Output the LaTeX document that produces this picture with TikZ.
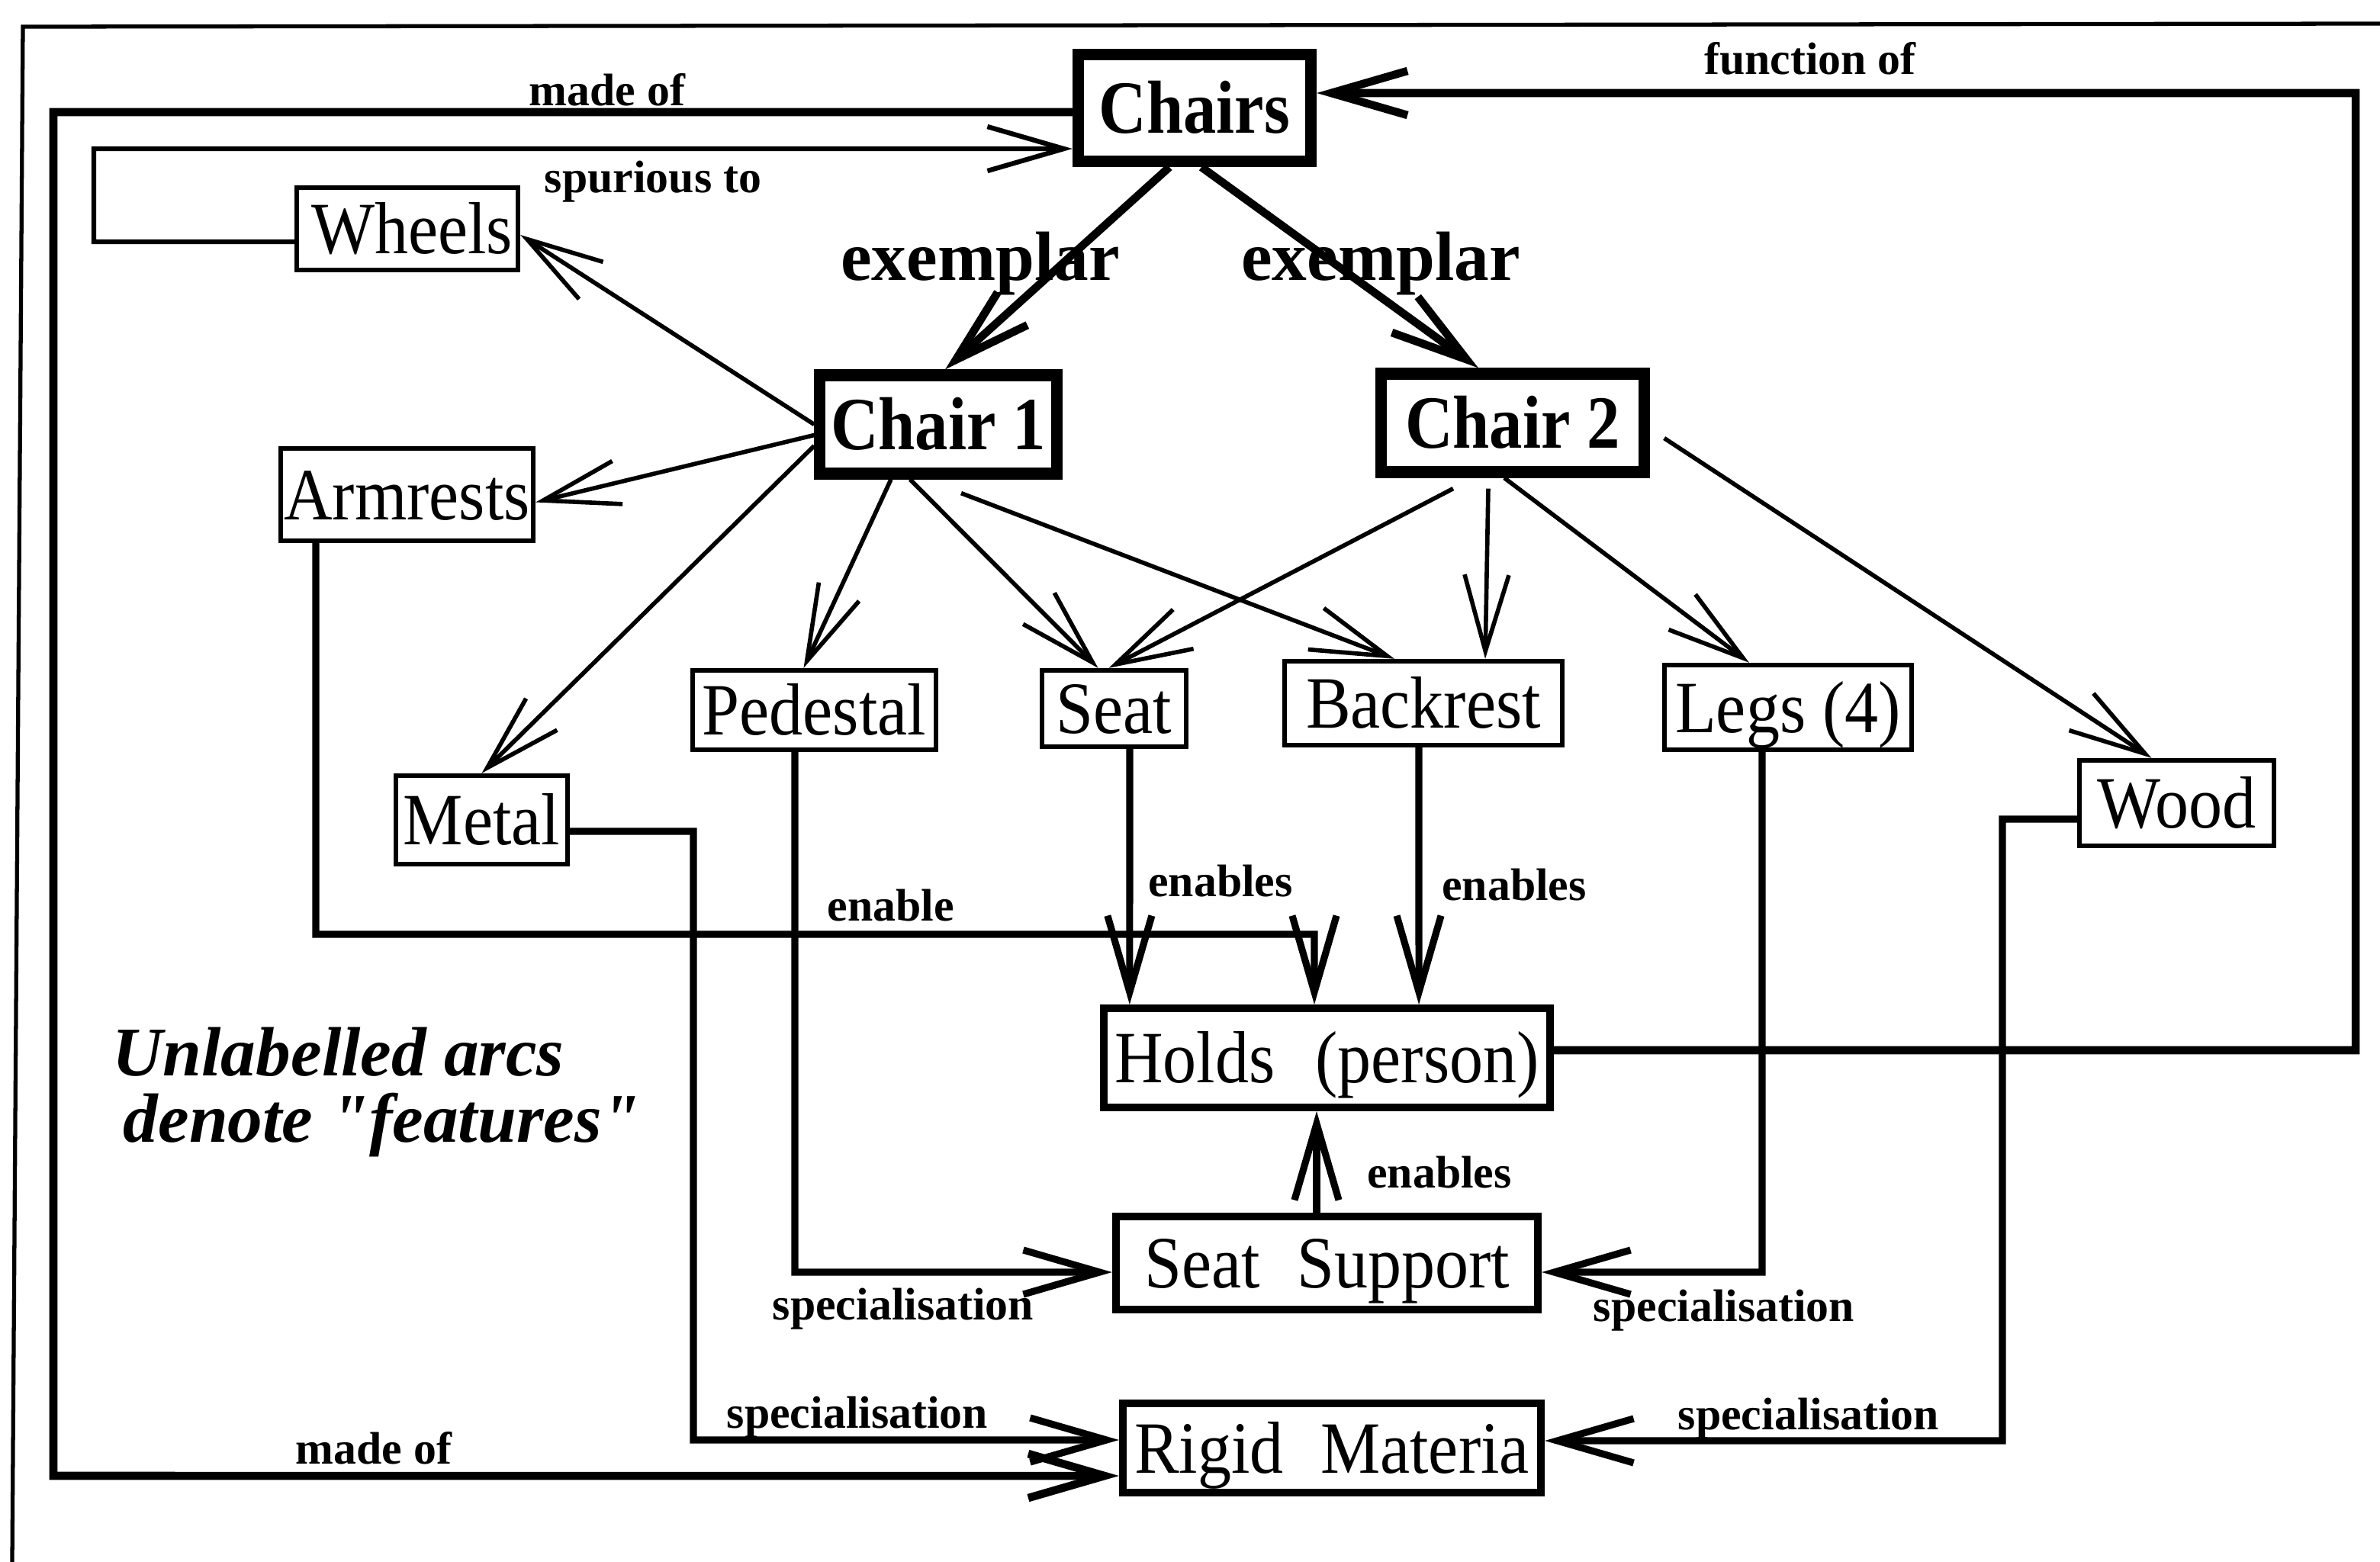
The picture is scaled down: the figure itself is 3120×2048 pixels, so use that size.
\documentclass[tikz,border=0pt]{standalone}
\usepackage{fontspec}
\setmainfont{Liberation Serif}
\newfontfamily\boxfont[FakeStretch=0.91]{Liberation Serif}
\newfontfamily\headfont[FakeStretch=0.88]{Liberation Serif}
\usetikzlibrary{arrows.meta}

\begin{document}
\begin{tikzpicture}[x=0.01cm, y=-0.01cm,
  >={Straight Barb[length=1cm, width=0.58cm]},
  headbox/.style={draw, line width=4.3pt, inner sep=0pt,
    text height=19pt, text depth=0pt,
    font=\headfont\bfseries\fontsize{28}{28}\selectfont},
  featbox/.style={draw, line width=1.8pt, inner sep=0pt,
    text height=18.7pt, text depth=0pt,
    font=\boxfont\fontsize{27.5}{27.5}\selectfont},
  midbox/.style={draw, line width=2.8pt, inner sep=0pt,
    text height=18.7pt, text depth=0pt,
    font=\boxfont\fontsize{27.5}{27.5}\selectfont},
  lbl/.style={inner sep=0pt, font=\bfseries\fontsize{17}{17}\selectfont},
  exlbl/.style={inner sep=0pt, font=\bfseries\fontsize{26}{26}\selectfont},
  notelbl/.style={inner sep=0pt, anchor=base west,
    font=\bfseries\itshape\fontsize{26}{26}\selectfont},
  feat/.style={->, line width=1.6pt},
  conn/.style={line width=2.6pt},
  heavy/.style={line width=3pt},
  framestyle/.style={line width=1.5pt}
]
\fill[white] (0,0) rectangle (3120,2048);
\useasboundingbox (0,0) rectangle (3120,2048);

% page frame (top and left edges)
\draw[framestyle] (3120,31) -- (30,35) -- (16,2048);

% nodes
\node[headbox, minimum width=3.05cm, minimum height=1.40cm] (chairs) at (1566,141.5) {Chairs};
\node[headbox, minimum width=3.10cm, minimum height=1.29cm] (c1) at (1230,556.5) {Chair 1};
\node[headbox, minimum width=3.44cm, minimum height=1.29cm] (c2) at (1983,554.5) {Chair 2};

\node[featbox, minimum width=2.90cm, minimum height=1.08cm] (wheels) at (534,300) {\hspace{0.12cm}Wheels};
\node[featbox, minimum width=3.31cm, minimum height=1.21cm] (armrests) at (533.5,648.5) {Armrests};
\node[featbox, minimum width=2.25cm, minimum height=1.16cm] (metal) at (631.5,1075) {Metal};
\node[featbox, minimum width=3.19cm, minimum height=1.04cm] (pedestal) at (1067.5,931) {Pedestal};
\node[featbox, minimum width=1.89cm, minimum height=1.00cm] (seat) at (1460.5,929) {Seat};
\node[featbox, minimum width=3.64cm, minimum height=1.10cm] (backrest) at (1866,922) {Backrest};
\node[featbox, minimum width=3.24cm, minimum height=1.11cm] (legs) at (2344,927.5) {Legs (4)};
\node[featbox, minimum width=2.55cm, minimum height=1.12cm] (wood) at (2853.5,1053) {Wood};

\node[midbox, minimum width=5.85cm, minimum height=1.30cm] (holds) at (1739.5,1387) {Holds\hspace{0.55em}(person)};
\node[midbox, minimum width=5.53cm, minimum height=1.22cm] (support) at (1739.5,1656) {Seat\hspace{0.5em}Support};
\node[midbox, minimum width=5.48cm, minimum height=1.17cm] (rigid) at (1746,1898.5) {Rigid\hspace{0.5em}Materia};

% exemplar links
\draw[->, heavy] ([xshift=-0.33cm]chairs.south) -- ([xshift=0.09cm]c1.north);
\draw[->, heavy] ([xshift=0.09cm]chairs.south) -- ([xshift=-0.45cm]c2.north);
\node[exlbl] (ex1) at (1285,346) {exemplar};
\node[exlbl] (ex2) at (1810,346) {exemplar};

% feature arcs of Chair 1
\draw[feat] (c1.west) -- ([yshift=-0.08cm]wheels.east);
\draw[feat] ([yshift=-0.14cm]c1.west) -- ([yshift=-0.10cm]armrests.east);
\draw[feat] ([yshift=-0.28cm]c1.west) -- (metal.north);
\draw[feat] ([xshift=-0.62cm]c1.south) -- ([xshift=-0.14cm]pedestal.north);
\draw[feat] ([xshift=-0.37cm]c1.south) -- ([xshift=-0.21cm]seat.north);
\draw[feat] ([xshift=0.30cm,yshift=-0.18cm]c1.south) -- ([xshift=-0.38cm]backrest.north);

% feature arcs of Chair 2
\draw[feat] ([xshift=-0.78cm,yshift=-0.14cm]c2.south) -- ([xshift=-0.07cm]seat.north);
\draw[feat] ([xshift=-0.32cm,yshift=-0.14cm]c2.south) -- ([xshift=0.81cm]backrest.north);
\draw[feat] ([xshift=-0.11cm]c2.south) -- ([xshift=-0.51cm]legs.north);
\draw[feat] ([xshift=0.19cm,yshift=-0.2cm]c2.east) -- ([xshift=-0.33cm]wood.north);

% made of (loop round the left side)
\coordinate (mo1) at (70,147);
\coordinate (mo2) at (70,1935);
\draw[->, heavy] ([yshift=-0.055cm]chairs.west) -- (mo1) -- (mo2) -- ([yshift=-0.365cm]rigid.west);
\node[lbl] (madeof1) at (796,118) {made of};
\node[lbl] (madeof2) at (490,1899) {made of};

% spurious to
\coordinate (sp1) at (123,317);
\coordinate (sp2) at (123,195);
\draw[->, line width=1.8pt] ([yshift=-0.17cm]wheels.west) -- (sp1) -- (sp2) -- ([yshift=-0.535cm]chairs.west);
\node[lbl] (spur) at (856,238) {spurious to};

% function of
\coordinate (fn1) at (3088,1377);
\coordinate (fn2) at (3088,122);
\draw[->, heavy] ([yshift=0.10cm]holds.east) -- (fn1) -- (fn2) -- ([yshift=0.195cm]chairs.east);
\node[lbl] (func) at (2373,77) {function of};

% enable / enables
\coordinate (en1) at (414,1225);
\coordinate (en2) at (1723,1225);
\draw[->, conn] ([xshift=-1.195cm]armrests.south) -- (en1) -- (en2) -- ([xshift=-0.165cm]holds.north);
\node[lbl] (enable) at (1168,1187) {enable};

\draw[->, conn] ([xshift=0.205cm]seat.south) -- ([xshift=-2.585cm]holds.north);
\node[lbl] (en3) at (1600,1155) {enables};
\draw[->, conn] ([xshift=-0.06cm]backrest.south) -- ([xshift=1.205cm]holds.north);
\node[lbl] (en4) at (1985,1160) {enables};
\draw[->, conn] ([xshift=-0.135cm]support.north) -- ([xshift=-0.135cm]holds.south);
\node[lbl] (en5) at (1887,1537) {enables};

% specialisations
\coordinate (ps1) at (1042,1668);
\draw[->, conn] ([xshift=-0.255cm]pedestal.south) -- (ps1) -- ([yshift=-0.12cm]support.west);
\node[lbl] (spec1) at (1184,1716) {specialisation};

\coordinate (ls1) at (2310,1668);
\draw[->, conn] ([xshift=-0.34cm]legs.south) -- (ls1) -- ([yshift=-0.12cm]support.east);
\node[lbl] (spec2) at (2260,1718) {specialisation};

\coordinate (ms1) at (909,1090);
\coordinate (ms2) at (909,1888);
\draw[->, conn] ([yshift=-0.15cm]metal.east) -- (ms1) -- (ms2) -- ([yshift=0.105cm]rigid.west);
\node[lbl] (spec3) at (1124,1858) {specialisation};

\coordinate (ws1) at (2625,1074);
\coordinate (ws2) at (2625,1889);
\draw[->, conn] ([yshift=-0.21cm]wood.west) -- (ws1) -- (ws2) -- ([yshift=0.095cm]rigid.east);
\node[lbl] (spec4) at (2371,1860) {specialisation};

% legend
\node[notelbl] (note1) at (147,1410) {Unlabelled arcs};
\node[notelbl] (note2) at (161,1497) {denote \textquotedbl features\textquotedbl};

\end{tikzpicture}
\end{document}
